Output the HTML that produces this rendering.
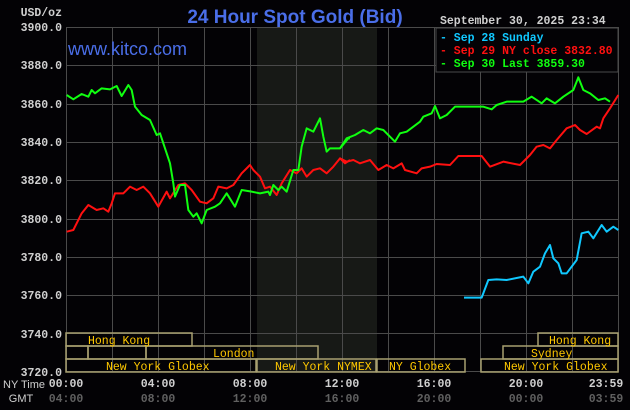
<!DOCTYPE html>
<html><head><style>
body{margin:0;background:#000;}
svg{display:block}
.m{font-family:"Liberation Mono",monospace;font-size:11.5px;font-weight:bold;}
</style></head><body>
<svg width="630" height="410" xmlns="http://www.w3.org/2000/svg">
<rect width="630" height="410" fill="#030205"/>
<rect x="257" y="27" width="120" height="345" fill="#171916"/>
<g stroke="#4a4a4a" stroke-width="1">
<line x1="66" y1="27.5" x2="618" y2="27.5"/><line x1="66" y1="65.5" x2="618" y2="65.5"/><line x1="66" y1="104.5" x2="618" y2="104.5"/><line x1="66" y1="142.5" x2="618" y2="142.5"/><line x1="66" y1="180.5" x2="618" y2="180.5"/><line x1="66" y1="219.5" x2="618" y2="219.5"/><line x1="66" y1="257.5" x2="618" y2="257.5"/><line x1="66" y1="295.5" x2="618" y2="295.5"/><line x1="66" y1="333.5" x2="618" y2="333.5"/><line x1="66" y1="371.5" x2="618" y2="371.5"/>
<line x1="66.5" y1="27" x2="66.5" y2="372"/><line x1="112.5" y1="27" x2="112.5" y2="372"/><line x1="158.5" y1="27" x2="158.5" y2="372"/><line x1="204.5" y1="27" x2="204.5" y2="372"/><line x1="250.5" y1="27" x2="250.5" y2="372"/><line x1="296.5" y1="27" x2="296.5" y2="372"/><line x1="342.5" y1="27" x2="342.5" y2="372"/><line x1="388.5" y1="27" x2="388.5" y2="372"/><line x1="434.5" y1="27" x2="434.5" y2="372"/><line x1="480.5" y1="27" x2="480.5" y2="372"/><line x1="526.5" y1="27" x2="526.5" y2="372"/><line x1="572.5" y1="27" x2="572.5" y2="372"/><line x1="618.5" y1="27" x2="618.5" y2="372"/>
</g>
<g fill="none" stroke-width="6" stroke-linejoin="round" transform="translate(60,70) scale(0.33333)">
<polyline stroke="#ff1010" points="20,485 40,480 65,430 85,405 110,420 130,415 145,425 155,400 165,370 190,370 210,350 230,360 250,350 270,370 295,410 320,365 330,385 355,345 375,340 395,360 420,395 440,400 460,385 475,350 500,355 520,345 545,310 570,285 580,300 600,320 615,355 630,350 650,375 665,340 690,300 710,310 725,295 740,320 760,300 780,295 800,310 820,290 840,265 855,280 870,270"/>
<polyline stroke="#10ff10" points="20,75 40,88 65,72 85,80 95,60 105,70 125,55 150,58 170,48 185,78 205,45 215,60 225,110 245,135 270,150 290,195 300,190 315,235 330,280 340,340 345,380 360,345 375,345 385,420 400,440 410,430 425,460 440,420 465,410 480,400 500,370 525,410 545,360 575,365 600,370 625,365 630,375 640,345 655,360 665,350 680,365 700,300 715,300 725,230 740,175 760,185 780,145 790,200 800,245 810,235 840,235 865,205 870,205"/>
</g>
<g fill="none" stroke-width="6" stroke-linejoin="round" transform="translate(340,70) scale(0.33333)">
<polyline stroke="#10ff10" points="0,235 20,205 45,195 70,180 90,190 110,175 130,180 150,200 165,215 180,190 200,185 220,170 240,155 250,140 275,130 285,108 300,145 320,135 345,110 360,110 430,110 455,118 470,105 500,95 550,95 575,80 605,100 620,85 645,100 670,80 700,60 715,22 730,60 750,70 775,90 795,85 810,95"/>
<polyline stroke="#ff1010" points="0,265 20,275 40,270 60,280 90,270 115,300 140,285 160,295 185,280 195,300 230,310 245,295 270,290 290,282 330,285 355,258 425,258 450,290 490,275 540,285 570,255 590,230 610,225 630,235 650,210 680,175 705,165 720,180 740,192 770,170 780,175 790,145 810,115 835,75"/>
<polyline stroke="#10c8ff" points="372,683 425,683 445,630 470,628 500,630 550,620 565,640 580,605 600,590 615,550 630,525 640,565 655,580 665,610 680,610 710,570 725,490 745,485 760,505 785,465 800,485 820,470 835,480"/>
</g>
<g fill="none" stroke="#a8a070" stroke-width="1.5">
<rect x="66" y="333" width="126" height="13"/><rect x="538" y="333" width="80" height="13"/>
<rect x="66" y="346" width="22" height="13"/><rect x="88" y="346" width="58" height="13"/><rect x="146" y="346" width="172" height="13"/><rect x="503" y="346" width="115" height="13"/>
<rect x="66" y="359" width="190" height="13"/><rect x="257" y="359" width="119" height="13"/><rect x="377" y="359" width="88" height="13"/><rect x="481" y="359" width="137" height="13"/>
</g>
<g class="m" fill="#ffc800" style="font-weight:normal">
<text x="88" y="344">Hong Kong</text><text x="549" y="344">Hong Kong</text>
<text x="213" y="357">London</text><text x="531" y="357">Sydney</text>
<text x="106" y="370">New York Globex</text><text x="275" y="370">New York NYMEX</text><text x="389" y="370">NY Globex</text><text x="504" y="370">New York Globex</text>
</g>
<g class="m" fill="#d0d0d0" text-anchor="end">
<text x="62" y="16">USD/oz</text>
<text x="62" y="31">3900.0</text><text x="62" y="69">3880.0</text><text x="62" y="108">3860.0</text><text x="62" y="146">3840.0</text><text x="62" y="184">3820.0</text><text x="62" y="223">3800.0</text><text x="62" y="261">3780.0</text><text x="62" y="299">3760.0</text><text x="62" y="338">3740.0</text><text x="62" y="376">3720.0</text>
</g>
<g class="m" fill="#d0d0d0" text-anchor="middle">
<text x="24" y="388" style="font-family:'Liberation Sans',sans-serif;font-size:11px;font-weight:normal">NY Time</text>
<text x="21" y="402" style="font-family:'Liberation Sans',sans-serif;font-size:11px;font-weight:normal">GMT</text>
<text x="66" y="387">00:00</text><text x="158" y="387">04:00</text><text x="250" y="387">08:00</text><text x="342" y="387">12:00</text><text x="434" y="387">16:00</text><text x="526" y="387">20:00</text><text x="606" y="387">23:59</text>
</g>
<g class="m" fill="#606060" text-anchor="middle">
<text x="66" y="402">04:00</text><text x="158" y="402">08:00</text><text x="250" y="402">12:00</text><text x="342" y="402">16:00</text><text x="434" y="402">20:00</text><text x="526" y="402">00:00</text><text x="606" y="402">03:59</text>
</g>
<text x="295" y="23" text-anchor="middle" fill="#4a6ee8" style="font-family:'Liberation Sans',sans-serif;font-size:19px;font-weight:bold">24 Hour Spot Gold (Bid)</text>
<text x="68" y="55" fill="#4a6ee8" style="font-family:'Liberation Sans',sans-serif;font-size:18px">www.kitco.com</text>
<text x="440" y="24" class="m" fill="#d0d0d0">September 30, 2025 23:34</text>
<rect x="436" y="28" width="182" height="44" fill="#030205" stroke="#4a4a4a"/>
<g class="m">
<text x="440" y="41" fill="#10c8ff">- Sep 28 Sunday</text>
<text x="440" y="54" fill="#ff1010">- Sep 29 NY close 3832.80</text>
<text x="440" y="67" fill="#10ff10">- Sep 30 Last 3859.30</text>
</g>
</svg>
</body></html>
